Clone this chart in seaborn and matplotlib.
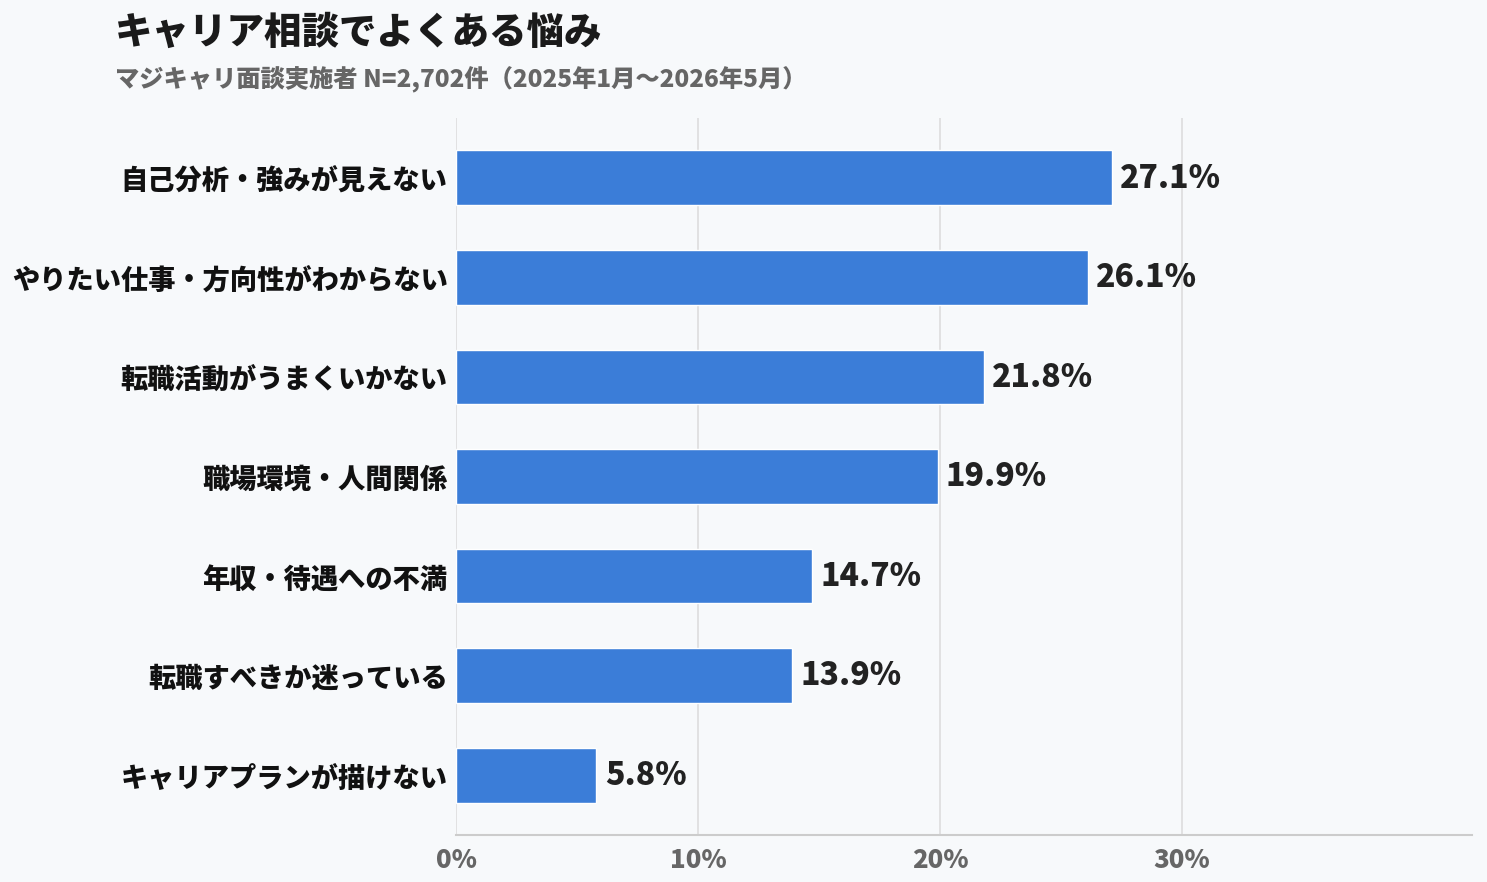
import numpy as np
import pandas as pd
import matplotlib
matplotlib.use("Agg")
import matplotlib.pyplot as plt
import seaborn as sns

# データ
categories = [
    "自己分析・強みが見えない",
    "やりたい仕事・方向性がわからない",
    "転職活動がうまくいかない",
    "職場環境・人間関係",
    "年収・待遇への不満",
    "転職すべきか迷っている",
    "キャリアプランが描けない",
]
shares = [27.1, 26.1, 21.8, 19.9, 14.7, 13.9, 5.8]
x_ticks = [0, 10, 20, 30]
x_tick_labels = ["0%", "10%", "20%", "30%"]

df = pd.DataFrame({"category": categories, "share": shares})

BG = "#f7f9fb"
BAR = "#3b7dd8"

sns.set_style("white")
plt.rcParams["font.family"] = ["Noto Sans CJK JP", "DejaVu Sans"]

fig = plt.figure(figsize=(14.87, 8.82), dpi=100, facecolor=BG)
ax = fig.add_axes([0.3067, 0.0533, 0.6832, 0.8129])
ax.set_facecolor(BG)

sns.barplot(data=df, x="share", y="category", color=BAR, width=0.55,
            saturation=1, ax=ax, zorder=3)

ax.set_xlim(0, 41.98)
ax.set_ylim(6.6, -0.6)
ax.set_xticks(x_ticks)
ax.set_xticklabels(x_tick_labels, fontsize=18.5, fontweight="black", color="#666666")
ax.tick_params(axis="x", length=0, pad=9)
ax.tick_params(axis="y", length=0, pad=6)
for lbl in ax.get_yticklabels():
    lbl.set_fontsize(19.6)
    lbl.set_fontweight("black")
    lbl.set_color("#111111")
ax.set_xlabel("")
ax.set_ylabel("")

ax.grid(axis="x", color="#dddddd", linewidth=1.2, zorder=0)
ax.set_axisbelow(True)
for side in ["top", "right", "left"]:
    ax.spines[side].set_visible(False)
ax.spines["bottom"].set_color("#cccccc")
ax.spines["bottom"].set_linewidth(1.5)

for i, v in enumerate(shares):
    ax.annotate(f"{v}%", xy=(v, i), xytext=(6, 0), textcoords="offset points",
                va="center", ha="left", fontsize=23, fontweight="black",
                color="#222222", zorder=4)

fig.text(115 / 1487, 1 - 33 / 882, "キャリア相談でよくある悩み", fontsize=27,
         fontweight="black", color="#1a1a1a", va="center", ha="left")
fig.text(115 / 1487, 1 - 80 / 882, "マジキャリ面談実施者 N=2,702件（2025年1月〜2026年5月）",
         fontsize=17.5, fontweight="black", color="#666666", va="center", ha="left")

fig.savefig("out.png", dpi=100, facecolor=BG)
